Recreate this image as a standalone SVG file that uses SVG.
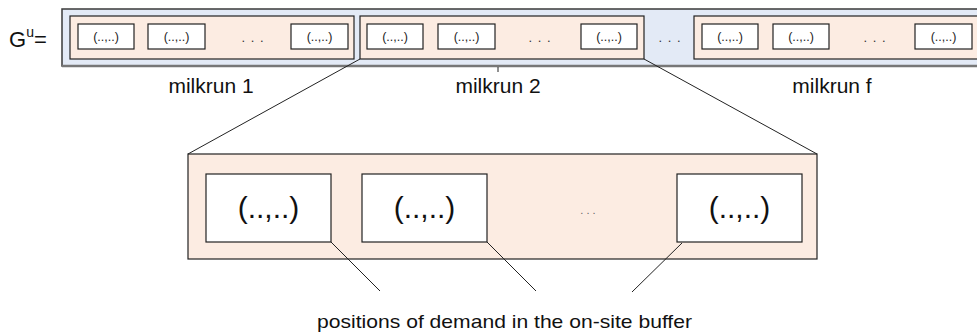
<svg xmlns="http://www.w3.org/2000/svg" width="977" height="334" viewBox="0 0 977 334">
<style>
.outer{fill:#e3eaf6;stroke:#3a3a3a;stroke-width:1.5}
.mr{fill:#fcece2;stroke:#222;stroke-width:1.2}
.sb{fill:#fff;stroke:#222;stroke-width:1.2}
.bb{fill:#fff;stroke:#222;stroke-width:1.2}
.st{font-family:"Liberation Sans",Arial,sans-serif;font-size:12.5px;fill:#222;text-anchor:middle}
.bt{font-family:"Liberation Sans",Arial,sans-serif;font-size:30px;fill:#111;text-anchor:middle}
.lbl{font-family:"Liberation Sans",Arial,sans-serif;font-size:21px;fill:#111;text-anchor:middle}
.dots{font-family:"Liberation Sans",Arial,sans-serif;font-size:13px;fill:#333;text-anchor:middle;letter-spacing:1px}
.ln{stroke:#222;stroke-width:1;fill:none}
</style>
<g id="label-gu">
<text x="9" y="47" font-family="'Liberation Sans',Arial,sans-serif" font-size="22" fill="#111">G<tspan dy="-10" font-size="14">u</tspan><tspan dy="10">=</tspan></text>
</g>
<g id="sequence">
<rect class="outer" x="62" y="9" width="940" height="57"/>
<line x1="62" y1="66" x2="977" y2="66" stroke="#777" stroke-width="2.5"/>
</g>
<g id="milkrun1">
<rect class="mr" x="70" y="16" width="284" height="43"/>
<rect class="sb" x="78" y="24" width="56" height="25"/><text class="st" x="106" y="41">(..,..)</text>
<rect class="sb" x="148" y="24" width="57" height="25"/><text class="st" x="176.5" y="41">(..,..)</text>
<text class="dots" x="253" y="42">. . .</text>
<rect class="sb" x="291" y="24" width="57" height="25"/><text class="st" x="319.5" y="41">(..,..)</text>
<text class="lbl" x="211" y="93">milkrun 1</text>
</g>
<g id="milkrun2">
<rect class="mr" x="360" y="16" width="284" height="43"/>
<rect class="sb" x="367" y="24" width="56" height="25"/><text class="st" x="395" y="41">(..,..)</text>
<rect class="sb" x="438" y="24" width="57" height="25"/><text class="st" x="466.5" y="41">(..,..)</text>
<text class="dots" x="540" y="42">. . .</text>
<rect class="sb" x="581" y="24" width="56" height="25"/><text class="st" x="609" y="41">(..,..)</text>
<text class="lbl" x="498" y="93">milkrun 2</text>
</g>
<g id="gap-dots">
<text class="dots" x="670" y="42">. . .</text>
</g>
<g id="milkrunf">
<rect class="mr" x="694" y="16" width="300" height="43"/>
<rect class="sb" x="702" y="24" width="56" height="25"/><text class="st" x="730" y="41">(..,..)</text>
<rect class="sb" x="773" y="24" width="56" height="25"/><text class="st" x="801" y="41">(..,..)</text>
<text class="dots" x="875" y="42">. . .</text>
<rect class="sb" x="915" y="24" width="57" height="25"/><text class="st" x="943.5" y="41">(..,..)</text>
<text class="lbl" x="832" y="93">milkrun f</text>
</g>
<g id="detail">
<rect class="mr" x="188" y="154" width="629" height="105"/>
<rect class="bb" x="206" y="174" width="125" height="68"/><text class="bt" x="268.5" y="218">(..,..)</text>
<rect class="bb" x="362" y="174" width="125" height="68"/><text class="bt" x="424.5" y="218">(..,..)</text>
<text x="588" y="214" font-family="'Liberation Sans',Arial,sans-serif" font-size="11" fill="#666" text-anchor="middle">. . .</text>
<rect class="bb" x="677" y="174" width="125" height="68"/><text class="bt" x="739.5" y="218">(..,..)</text>
</g>
<g id="caption">
<text x="504.5" y="328" font-family="'Liberation Sans',Arial,sans-serif" font-size="19" fill="#111" text-anchor="middle" textLength="375" lengthAdjust="spacingAndGlyphs">positions of demand in the on-site buffer</text>
</g>
<g id="connectors">
<line class="ln" x1="498" y1="67" x2="498" y2="72"/>
<line class="ln" x1="360" y1="59" x2="188" y2="154"/>
<line class="ln" x1="644" y1="59" x2="817" y2="154"/>
<line class="ln" x1="331" y1="242" x2="380" y2="291"/>
<line class="ln" x1="487" y1="242" x2="536" y2="291"/>
<line class="ln" x1="682" y1="243" x2="632" y2="292"/>
</g>
</svg>
